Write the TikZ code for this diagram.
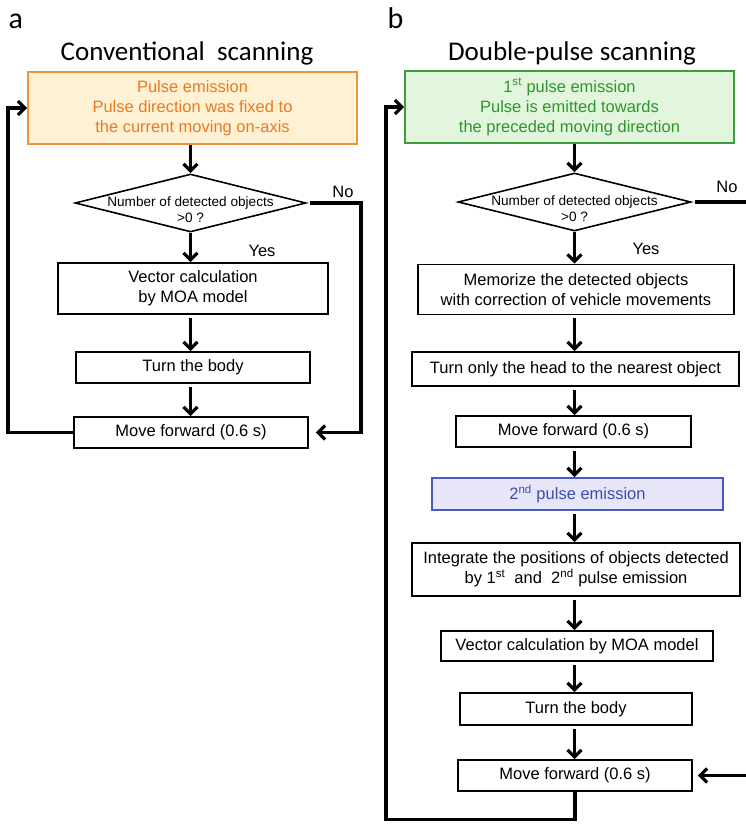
\documentclass[tikz,border=0pt]{standalone}
\usepackage{fontspec}
\setmainfont{Liberation Sans}
\newfontfamily\calib{Carlito}
\usetikzlibrary{shapes.geometric,arrows.meta}

\definecolor{orline}{HTML}{F2923A}
\definecolor{orfill}{HTML}{FFF2D4}
\definecolor{ortext}{HTML}{E97A22}
\definecolor{grline}{HTML}{3C9E3C}
\definecolor{grfill}{HTML}{E1F6DC}
\definecolor{grtext}{HTML}{2E962E}
\definecolor{blline}{HTML}{4A5BBE}
\definecolor{blfill}{HTML}{E6E6F8}
\definecolor{bltext}{HTML}{3C4DB2}

\begin{document}
\begin{tikzpicture}[x=1pt,y=-1pt,
	box/.style={draw,line width=1.6pt,inner sep=0pt,align=center,
		font=\fontsize{16.5}{20}\selectfont},
	decision/.style={draw,shape=diamond,line width=1.6pt,inner sep=0pt},
	dectext/.style={align=center,font=\fontsize{13.6}{16}\selectfont},
	answer/.style={anchor=base,font=\fontsize{16.5}{20}\selectfont},
	heading/.style={anchor=base,font=\calib\fontsize{27}{30}\selectfont},
	panel/.style={anchor=base west,font=\calib\fontsize{30}{32}\selectfont},
	flow/.style={line width=3.2pt,-{Straight Barb[length=7pt,width=14pt]},shorten <=3pt},
	retline/.style={line width=3.2pt}]
\useasboundingbox (0,0) rectangle (746,824);
\clip (0,0) rectangle (746,824);
%
% a: conventional scanning
%
	\node[panel] (tagA) at (5,29) {a};
	\node[heading] (titleA) at (187,61) {Conventional\ \ scanning};
	\node[box,draw=orline,fill=orfill,text=ortext,minimum width=329pt,minimum height=72pt]
		(pulseA) at (192.5,108) {Pulse emission\\Pulse direction was fixed to\\the current moving on-axis};
	\node[decision,minimum width=231pt,minimum height=58pt] (decA) at (190.5,203) {};
	\node[dectext] (decAtxt) at (190.5,210) {Number of detected objects\\>0 ?};
	\node[box,minimum width=270pt,minimum height=51pt] (vecA) at (193,288.5) {Vector calculation\\by MOA model};
	\node[box,minimum width=234pt,minimum height=31pt] (turnA) at (193,367.5) {Turn the body};
	\node[box,minimum width=234pt,minimum height=31pt] (moveA) at (191,432.5) {Move forward (0.6 s)};
	\node[answer] (yesA) at (262,256) {Yes};
	\node[answer] (noA) at (343,197) {No};
	\coordinate (noAc) at (361,203);
	\coordinate (backA) at (8,108);
%
	\draw[flow,shorten <=0pt] (pulseA.south -| decA) -- (decA.north);
	\draw[flow,shorten <=0pt] (decA.south) -- (decA.south |- vecA.north);
	\draw[flow] (decA.south |- vecA.south) -- (decA.south |- turnA.north);
	\draw[flow] (decA.south |- turnA.south) -- (decA.south |- moveA.north);
	\draw[flow,shorten >=7pt] (decA.east) -- (noAc) |- (moveA.east);
	\draw[retline,-{Straight Barb[length=7pt,width=14pt]}] (moveA.west) -| (backA) -- (pulseA.west);
%
% b: double-pulse scanning
%
	\node[panel] (tagB) at (384,29) {b};
	\node[heading] (titleB) at (572,61) {Double-pulse scanning};
	\node[box,draw=grline,fill=grfill,text=grtext,minimum width=329pt,minimum height=72pt]
		(pulseB) at (569.5,107) {1\textsuperscript{st} pulse emission\\Pulse is emitted towards\\the preceded moving direction};
	\node[decision,minimum width=233pt,minimum height=58pt] (decB) at (574.5,202) {};
	\node[dectext] (decBtxt) at (574.5,209) {Number of detected objects\\>0 ?};
	\node[box,minimum width=316pt,minimum height=50pt] (memB) at (576,289.5)
		{Memorize the detected objects\\with correction of vehicle movements};
	\node[box,minimum width=327pt,minimum height=34pt] (headB) at (575.5,369) {Turn only the head to the nearest object};
	\node[box,minimum width=235pt,minimum height=31pt] (moveB) at (573.5,431.5) {Move forward (0.6 s)};
	\node[box,draw=blline,fill=blfill,text=bltext,minimum width=291pt,minimum height=32pt]
		(pulseBb) at (577.5,494) {2\textsuperscript{nd} pulse emission};
	\node[box,minimum width=328pt,minimum height=53pt] (intB) at (576,569.5)
		{Integrate the positions of objects detected\\by 1\textsuperscript{st}\ \ and\ \ 2\textsuperscript{nd} pulse emission};
	\node[box,minimum width=272pt,minimum height=30pt] (vecB) at (577,646) {Vector calculation by MOA model};
	\node[box,minimum width=232pt,minimum height=32pt] (turnB) at (576,709) {Turn the body};
	\node[box,minimum width=234pt,minimum height=31pt] (lastB) at (575,775.5) {Move forward (0.6 s)};
	\node[answer] (yesB) at (646,254) {Yes};
	\node[answer] (noB) at (727,192) {No};
	\coordinate (noBc) at (770,202);
	\coordinate (backB) at (386,107);
%
	\draw[flow,shorten <=0pt] (pulseB.south -| decB) -- (decB.north);
	\draw[flow,shorten <=0pt] (decB.south) -- (decB.south |- memB.north);
	\draw[flow] (decB.south |- memB.south) -- (decB.south |- headB.north);
	\draw[flow] (decB.south |- headB.south) -- (decB.south |- moveB.north);
	\draw[flow] (decB.south |- moveB.south) -- (decB.south |- pulseBb.north);
	\draw[flow] (decB.south |- pulseBb.south) -- (decB.south |- intB.north);
	\draw[flow] (decB.south |- intB.south) -- (decB.south |- vecB.north);
	\draw[flow] (decB.south |- vecB.south) -- (decB.south |- turnB.north);
	\draw[flow] (decB.south |- turnB.south) -- (decB.south |- lastB.north);
	\draw[flow,shorten >=5pt] (decB.east) -- (noBc) |- (lastB.east);
	\draw[retline,-{Straight Barb[length=7pt,width=14pt]}] (lastB.south) -- ++(0,28) -| (backB) -- (pulseB.west);
\end{tikzpicture}
\end{document}
